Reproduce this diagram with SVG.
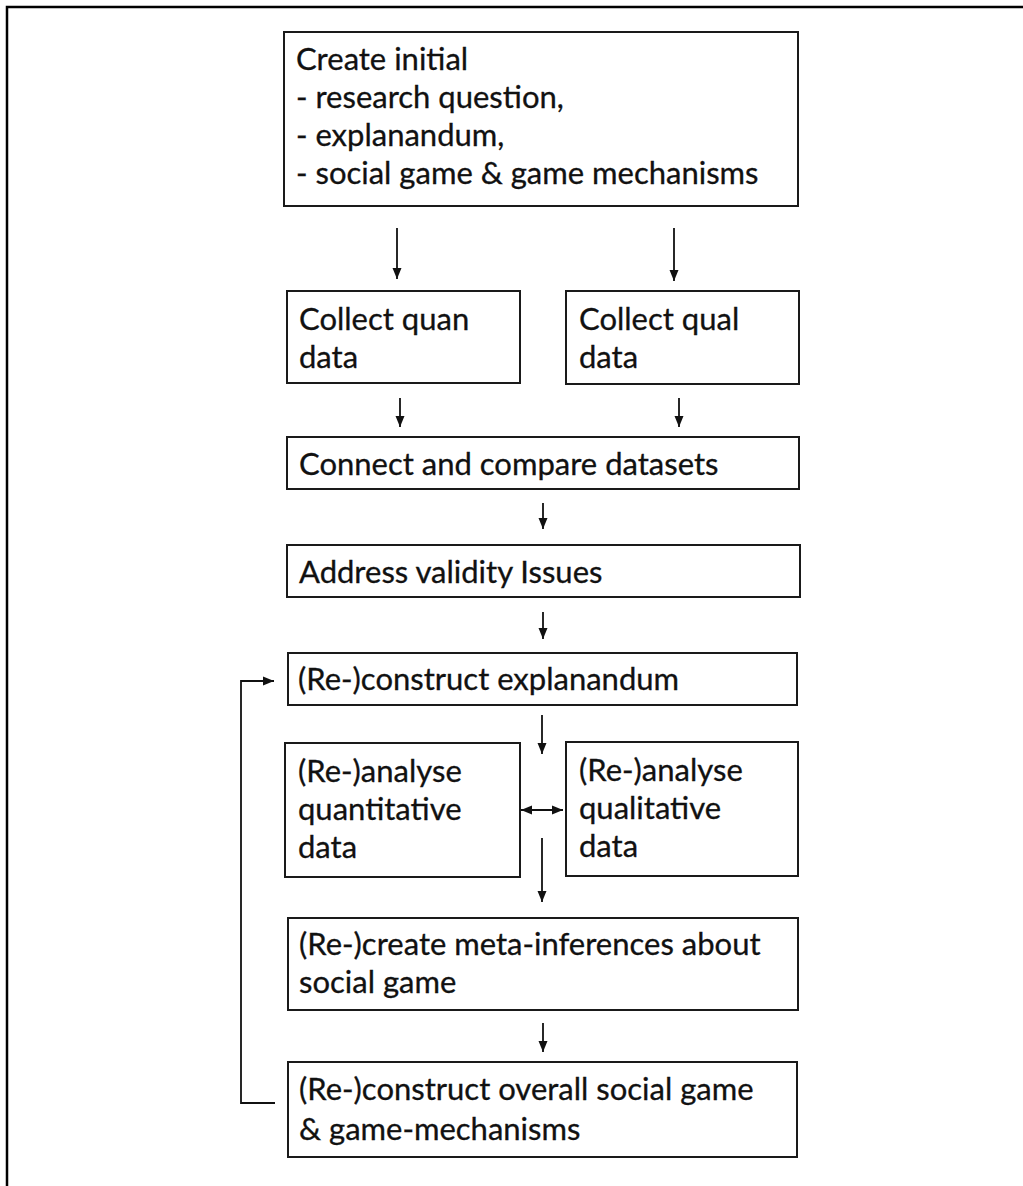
<svg xmlns="http://www.w3.org/2000/svg" width="1023" height="1186" viewBox="0 0 1023 1186">
<defs>
<style>
.box{fill:#fff;stroke:#1a1a1a;stroke-width:2}
.t{font-family:Lato,"Open Sans",sans-serif;font-size:31px;fill:#111;stroke:#111;stroke-width:0.3}
.c{fill:none;stroke:#111;stroke-width:1.8}
</style>
<marker id="ah" markerWidth="12" markerHeight="12" refX="11" refY="6" orient="auto-start-reverse" markerUnits="userSpaceOnUse">
<path d="M0,1.5 L11,6 L0,10.5 Z" fill="#111"/>
</marker>
</defs>
<rect width="1023" height="1186" fill="#fff"/>
<path d="M7,1186 V7 H1023" fill="none" stroke="#000" stroke-width="2.5"/>

<g id="n1"><rect class="box" x="284" y="32" width="514" height="174"/>
<text class="t" x="296" y="70">Create initial</text>
<text class="t" x="296" y="108">- research question,</text>
<text class="t" x="296" y="146">- explanandum,</text>
<text class="t" x="296" y="184">- social game &amp; game mechanisms</text></g>

<g id="n2"><rect class="box" x="287" y="291" width="233" height="92"/>
<text class="t" x="299" y="330">Collect quan</text>
<text class="t" x="299" y="368">data</text></g>

<g id="n3"><rect class="box" x="566" y="291" width="233" height="93"/>
<text class="t" x="579" y="330">Collect qual</text>
<text class="t" x="579" y="368">data</text></g>

<g id="n4"><rect class="box" x="287" y="437" width="512" height="52"/>
<text class="t" x="299" y="475">Connect and compare datasets</text></g>

<g id="n5"><rect class="box" x="287" y="545" width="513" height="52"/>
<text class="t" x="299" y="583">Address validity Issues</text></g>

<g id="n6"><rect class="box" x="288" y="653" width="509" height="52"/>
<text class="t" x="298" y="690">(Re-)construct explanandum</text></g>

<g id="n7"><rect class="box" x="285" y="743" width="235" height="134"/>
<text class="t" x="298" y="782">(Re-)analyse</text>
<text class="t" x="298" y="820">quantitative</text>
<text class="t" x="298" y="858">data</text></g>

<g id="n8"><rect class="box" x="566" y="742" width="232" height="134"/>
<text class="t" x="579" y="781">(Re-)analyse</text>
<text class="t" x="579" y="819">qualitative</text>
<text class="t" x="579" y="857">data</text></g>

<g id="n9"><rect class="box" x="288" y="918" width="510" height="92"/>
<text class="t" x="299" y="955">(Re-)create meta-inferences about</text>
<text class="t" x="299" y="993">social game</text></g>

<g id="n10"><rect class="box" x="288" y="1062" width="509" height="95"/>
<text class="t" x="299" y="1100">(Re-)construct overall social game</text>
<text class="t" x="299" y="1140">&amp; game-mechanisms</text></g>

<g id="connectors">
<path class="c" d="M397,228 V279" marker-end="url(#ah)"/>
<path class="c" d="M674,228 V281" marker-end="url(#ah)"/>
<path class="c" d="M400,398 V427" marker-end="url(#ah)"/>
<path class="c" d="M679,398 V427" marker-end="url(#ah)"/>
<path class="c" d="M543,503 V529" marker-end="url(#ah)"/>
<path class="c" d="M543,612 V639" marker-end="url(#ah)"/>
<path class="c" d="M542,715 V754" marker-end="url(#ah)"/>
<path class="c" d="M521,810 H563" marker-start="url(#ah)" marker-end="url(#ah)"/>
<path class="c" d="M542,838 V902" marker-end="url(#ah)"/>
<path class="c" d="M543,1023 V1052" marker-end="url(#ah)"/>
<path class="c" d="M275,1103 H241 V681 H274" marker-end="url(#ah)"/>
</g>
</svg>
